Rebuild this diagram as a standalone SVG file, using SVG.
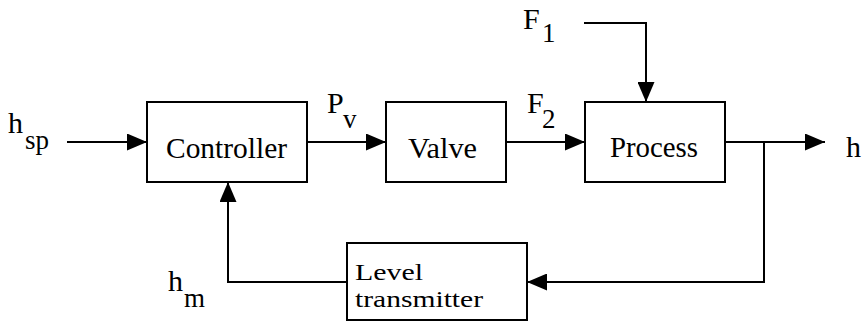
<svg xmlns="http://www.w3.org/2000/svg" width="863" height="322" viewBox="0 0 863 322">
<style>
.box{fill:#fff;stroke:#000;stroke-width:2}
.ln{fill:none;stroke:#000;stroke-width:2}
.t{font-family:'Liberation Serif','DejaVu Serif','Times New Roman',Times,serif;fill:#000}
.lb{font-size:30px}
.sb{font-size:27px}
.lt{font-size:24px}
</style>
<defs>
<marker id="ah" markerUnits="userSpaceOnUse" markerWidth="20" markerHeight="17" refX="20" refY="8.5" orient="auto">
<path d="M0,0 L20,8.5 L0,17 z" fill="#000"/>
</marker>
</defs>
<rect width="863" height="322" fill="#fff"/>
<g id="connectors">
<path class="ln" d="M67,142 H147" marker-end="url(#ah)"/>
<path class="ln" d="M307,142 H386" marker-end="url(#ah)"/>
<path class="ln" d="M506,142 H585" marker-end="url(#ah)"/>
<path class="ln" d="M584,23 H646 V102" marker-end="url(#ah)"/>
<path class="ln" d="M725,142 H825" marker-end="url(#ah)"/>
<path class="ln" d="M764,142 V282 H527" marker-end="url(#ah)"/>
<path class="ln" d="M347,282 H228 V182" marker-end="url(#ah)"/>
</g>
<g id="controller">
<rect class="box" x="147" y="102" width="160" height="80"/>
<text class="t lb" x="166" y="158" textLength="121" lengthAdjust="spacingAndGlyphs">Controller</text>
</g>
<g id="valve">
<rect class="box" x="386" y="102" width="120" height="80"/>
<text class="t lb" x="408" y="158" textLength="69" lengthAdjust="spacingAndGlyphs">Valve</text>
</g>
<g id="process">
<rect class="box" x="585" y="102" width="140" height="80"/>
<text class="t lb" x="610" y="157" textLength="88" lengthAdjust="spacingAndGlyphs">Process</text>
</g>
<g id="level-transmitter">
<rect class="box" x="347" y="243" width="180" height="77"/>
<text class="t lt" x="355" y="280" textLength="68" lengthAdjust="spacingAndGlyphs">Level</text>
<text class="t lt" x="355" y="307" textLength="128" lengthAdjust="spacingAndGlyphs">transmitter</text>
</g>
<g id="labels">
<text class="t lb" x="8" y="133">h</text><text class="t sb" x="25" y="149">sp</text>
<text class="t lb" x="327" y="113">P</text><text class="t sb" x="343" y="128">v</text>
<text class="t lb" x="523" y="29">F</text><text class="t sb" x="542" y="42">1</text>
<text class="t lb" x="527" y="113">F</text><text class="t sb" x="542" y="128">2</text>
<text class="t lb" x="846" y="157">h</text>
<text class="t lb" x="168" y="291">h</text><text class="t sb" x="184" y="307">m</text>
</g>
</svg>
